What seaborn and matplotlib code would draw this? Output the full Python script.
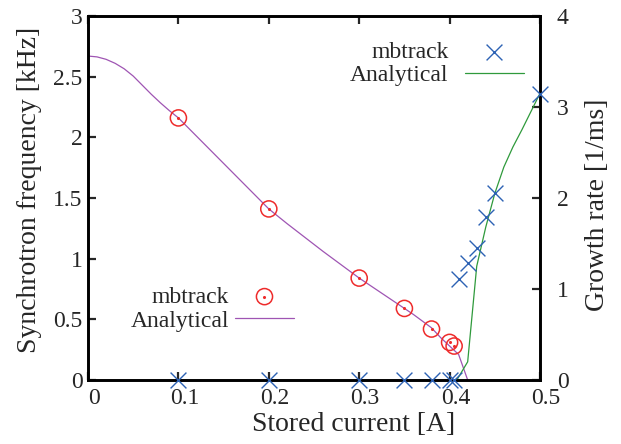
import matplotlib
matplotlib.use('Agg')
import matplotlib.pyplot as plt
from matplotlib.transforms import ScaledTranslation
from matplotlib.legend_handler import HandlerTuple
import seaborn as sns
import numpy as np

# =============================================================================
# Data

# mbtrack synchrotron frequency (left axis)
cur_fs = [0.1, 0.2, 0.3, 0.35, 0.38, 0.4, 0.405]
fs_mbt = [2.16, 1.41, 0.84, 0.59, 0.42, 0.31, 0.28]

# analytical synchrotron frequency
cur_fs_ana = [0.0, 0.01, 0.02, 0.03, 0.04, 0.05, 0.06, 0.07, 0.08, 0.09,
              0.1, 0.11, 0.12, 0.14, 0.16, 0.18, 0.2, 0.22, 0.24, 0.26,
              0.28, 0.3, 0.32, 0.34, 0.36, 0.38, 0.39, 0.4, 0.41, 0.42]
fs_ana = [2.67, 2.663, 2.643, 2.61, 2.565, 2.505, 2.43, 2.355, 2.285, 2.22,
          2.16, 2.085, 2.01, 1.86, 1.71, 1.56, 1.41, 1.29, 1.175, 1.06,
          0.95, 0.84, 0.74, 0.64, 0.54, 0.43, 0.35, 0.28, 0.21, 0.0]

# mbtrack growth rate (right axis)
cur_gr = [0.1, 0.2, 0.3, 0.35, 0.38, 0.4, 0.405, 0.41, 0.42, 0.43, 0.44,
          0.45, 0.5]
gr_mbt = [0.0, 0.0, 0.0, 0.0, 0.0, 0.0, 0.0, 1.11, 1.29, 1.45, 1.79,
          2.06, 3.14]

# analytical growth rate
cur_gr_ana = [0.408, 0.42, 0.43, 0.44, 0.45, 0.46, 0.47, 0.48, 0.49, 0.5]
gr_ana = [0.0, 0.2, 1.25, 1.68, 2.05, 2.34, 2.56, 2.75, 2.95, 3.15]

# =============================================================================
# Style
sns.set_style('white')
plt.rcParams['font.family'] = ['Liberation Serif', 'DejaVu Serif']
plt.rcParams['mathtext.fontset'] = 'stix'

colPur = '#9f55b3'
colRed = '#ee2b2b'
colBlu = '#2d62b4'
colGrn = '#2f9a3c'

fig = plt.figure(figsize=(6.21, 4.44), dpi=100)
ax1 = fig.add_axes([88/621, 64/444, 452/621, 364/444])
ax2 = ax1.twinx()

# left axis: frequency
sns.lineplot(x=cur_fs_ana, y=fs_ana, color=colPur, lw=0.9, ax=ax1,
             label='Analytical', sort=False)
hCirc = ax1.scatter(cur_fs, fs_mbt, s=135, facecolors='none',
                    edgecolors=colRed, linewidths=1.1, zorder=3)
hDot = ax1.scatter(cur_fs, fs_mbt, s=1.5, color=colRed, zorder=3)

# right axis: growth rate
sns.lineplot(x=cur_gr_ana, y=gr_ana, color=colGrn, lw=0.9, ax=ax2,
             label='Analytical', sort=False)
sns.scatterplot(x=cur_gr, y=gr_mbt, marker='x', s=130, color=colBlu,
                linewidth=1.0, ax=ax2, zorder=4, clip_on=False)
hX = ax2.collections[-1]

ax1.set_xlim(0, 0.5)
ax1.set_ylim(0, 3)
ax2.set_ylim(0, 4)
ax1.set_xticks(np.arange(0, 0.51, 0.1))
ax1.set_xticklabels(['0', '0.1', '0.2', '0.3', '0.4', '0.5'])
ax1.set_yticks([0, 0.5, 1, 1.5, 2, 2.5, 3])
ax1.set_yticklabels(['0', '0.5', '1', '1.5', '2', '2.5', '3'])
ax2.set_yticks([0, 1, 2, 3, 4])

for ax in (ax1, ax2):
    for sp in ax.spines.values():
        sp.set_linewidth(1.9)
        sp.set_color('black')
ax1.tick_params(axis='x', direction='in', top=True, bottom=True, length=6,
                width=1.6, labelsize=17, pad=6)
ax1.tick_params(axis='y', direction='in', left=True, right=False, length=6,
                width=1.6, labelsize=17, pad=4)
ax2.tick_params(axis='y', direction='in', right=True, length=6, width=1.6,
                labelsize=17, pad=12)
# gnuplot puts the x labels slightly right of the ticks
for lab in ax1.get_xticklabels():
    lab.set_transform(lab.get_transform() +
                      ScaledTranslation(6/100, 0, fig.dpi_scale_trans))

ax1.set_xlabel('Stored current [A]', fontsize=20)
ax1.xaxis.set_label_coords(0.588, -0.088)
ax1.set_ylabel('Synchrotron frequency [kHz]', fontsize=20)
ax1.yaxis.set_label_coords(-0.102, 0.522)
ax2.set_ylabel('Growth rate [1/ms]', fontsize=20)
ax2.yaxis.set_label_coords(1.10, 0.481)

ax1.get_legend().remove()
ax2.get_legend().remove()

hPur = ax1.get_lines()[0]
hGrn = ax2.get_lines()[0]

leg2 = fig.legend([hX, hGrn], ['mbtrack', 'Analytical'], loc='center right',
                  bbox_to_anchor=(524/621, 1 - 64/444), frameon=False,
                  markerfirst=False, fontsize=17, handlelength=2.5,
                  handletextpad=0.7, labelspacing=0.05, borderpad=0,
                  borderaxespad=0)
leg1 = fig.legend([(hCirc, hDot), hPur], ['mbtrack', 'Analytical'],
                  loc='center right', bbox_to_anchor=(294/621, 1 - 309/444),
                  frameon=False, markerfirst=False, fontsize=17,
                  handlelength=2.5, handletextpad=0.25, labelspacing=0.1,
                  borderpad=0, borderaxespad=0,
                  handler_map={tuple: HandlerTuple(ndivide=1)})

plt.savefig('out.png', dpi=100)
plt.close('all')
